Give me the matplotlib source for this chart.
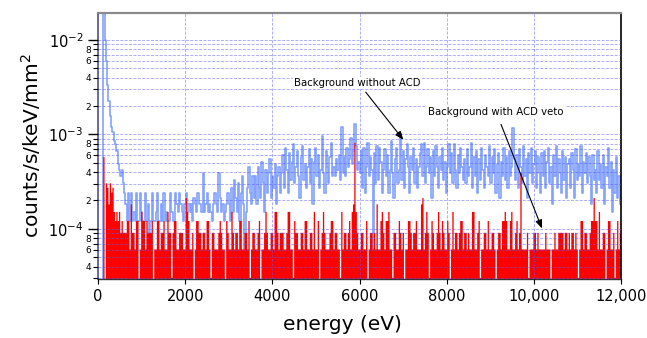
import numpy as np
import matplotlib
matplotlib.use("Agg")
import matplotlib.pyplot as plt
from matplotlib.ticker import FixedLocator, FixedFormatter

plt.rcParams['font.family'] = ['DejaVu Sans']
plt.rcParams['mathtext.fontset'] = 'dejavusans'

# ---------------- data (counts per 30 eV bin, 0 - 12000 eV) ----------------
bin_width_ev = 30.0
count_unit = 3.03e-5   # counts/s/keV/mm^2 per count

red_counts = [
    0, 0, 0, 0, 19, 0, 10, 9, 6, 10, 8, 9, 5, 4, 5, 4, 5, 3, 4, 3,
    3, 3, 4, 4, 2, 6, 3, 3, 2, 4, 4, 0, 2, 5, 4, 4, 2, 4, 3, 3,
    3, 4, 0, 2, 2, 4, 4, 2, 3, 3, 4, 2, 2, 5, 3, 3, 1, 3, 4, 4,
    2, 2, 3, 3, 3, 2, 2, 7, 5, 4, 2, 2, 3, 0, 2, 4, 4, 3, 3, 2,
    3, 3, 2, 4, 4, 2, 1, 3, 3, 2, 2, 2, 3, 4, 3, 2, 2, 0, 4, 3,
    2, 2, 5, 3, 2, 3, 3, 2, 4, 4, 2, 2, 3, 3, 2, 4, 1, 2, 3, 3,
    2, 2, 3, 4, 0, 2, 2, 3, 5, 3, 2, 2, 3, 3, 2, 5, 5, 3, 2, 3,
    3, 3, 2, 2, 3, 5, 5, 2, 2, 1, 4, 3, 3, 2, 2, 3, 3, 2, 4, 4,
    2, 2, 3, 3, 2, 5, 2, 2, 4, 0, 2, 3, 5, 3, 2, 2, 2, 3, 4, 4,
    2, 3, 3, 2, 2, 1, 5, 2, 3, 3, 2, 3, 4, 2, 5, 6, 27, 5, 3, 2,
    2, 3, 3, 2, 2, 4, 0, 2, 3, 3, 2, 3, 2, 6, 2, 2, 4, 5, 3, 2,
    4, 4, 5, 2, 2, 1, 3, 3, 2, 2, 4, 3, 2, 3, 0, 2, 2, 4, 4, 3,
    2, 3, 3, 4, 2, 2, 2, 6, 7, 2, 3, 5, 3, 1, 2, 4, 3, 2, 2, 3,
    5, 3, 2, 4, 3, 2, 2, 4, 3, 0, 2, 5, 2, 3, 3, 2, 3, 4, 4, 2,
    3, 3, 2, 3, 2, 2, 5, 5, 2, 2, 3, 4, 1, 2, 2, 3, 3, 2, 4, 2,
    2, 3, 3, 2, 0, 2, 3, 3, 2, 4, 4, 5, 4, 2, 2, 4, 5, 2, 2, 3,
    4, 2, 3, 13, 2, 2, 2, 2, 3, 1, 2, 2, 2, 3, 3, 2, 3, 2, 2, 2,
    2, 2, 3, 2, 2, 2, 0, 2, 2, 3, 2, 2, 3, 3, 3, 3, 2, 3, 3, 2,
    3, 2, 3, 3, 2, 3, 2, 1, 2, 4, 4, 2, 3, 3, 2, 2, 3, 4, 4, 7,
    4, 4, 2, 5, 2, 2, 3, 3, 0, 2, 4, 4, 2, 2, 3, 1, 2, 4, 2, 3,
]

blue_counts = [
    0, 0, 0, 0, 700, 330, 200, 110, 75, 52, 40, 35, 28, 26, 22, 16, 14, 12, 14, 10,
    8, 6, 4, 8, 4, 8, 4, 5, 4, 8, 4, 4, 8, 5, 4, 4, 8, 4, 6, 0,
    4, 8, 4, 4, 5, 8, 4, 4, 6, 4, 8, 4, 5, 4, 4, 8, 5, 4, 4, 8,
    6, 5, 8, 6, 5, 4, 6, 8, 5, 6, 5, 6, 4, 7, 6, 5, 8, 6, 6, 5,
    13, 5, 6, 8, 5, 6, 5, 4, 6, 8, 6, 5, 13, 7, 5, 6, 4, 5, 6, 8,
    6, 4, 9, 5, 11, 7, 5, 10, 4, 8, 12, 6, 0, 5, 9, 15, 8, 6, 12, 7,
    12, 6, 15, 9, 7, 17, 10, 5, 14, 8, 13, 18, 7, 12, 9, 16, 6, 12, 15, 8,
    13, 20, 9, 24, 14, 8, 21, 11, 17, 26, 10, 15, 22, 12, 7, 19, 25, 11, 16, 9,
    15, 23, 10, 18, 6, 17, 24, 12, 20, 9, 14, 32, 13, 8, 22, 15, 10, 19, 27, 12,
    15, 12, 18, 14, 20, 11, 40, 13, 19, 12, 24, 15, 18, 30, 16, 22, 43, 25, 14, 17,
    13, 22, 9, 24, 8, 15, 27, 12, 19, 14, 0, 21, 10, 25, 11, 24, 17, 8, 14, 23,
    12, 20, 8, 14, 28, 13, 7, 18, 24, 10, 14, 33, 11, 22, 9, 18, 26, 15, 8, 19,
    14, 24, 10, 18, 9, 15, 21, 26, 12, 27, 10, 15, 23, 13, 19, 7, 22, 12, 25, 15,
    9, 19, 14, 24, 11, 17, 8, 15, 26, 13, 21, 10, 26, 14, 9, 20, 13, 24, 15, 11,
    18, 10, 23, 12, 15, 27, 9, 19, 12, 22, 8, 18, 11, 24, 14, 9, 20, 15, 12, 25,
    10, 19, 13, 23, 8, 16, 21, 7, 17, 12, 24, 11, 19, 9, 22, 12, 15, 39, 18, 11,
    20, 9, 23, 15, 10, 25, 12, 18, 7, 21, 13, 24, 10, 16, 22, 9, 19, 13, 8, 21,
    12, 22, 9, 17, 24, 10, 15, 6, 20, 12, 25, 9, 18, 13, 8, 22, 11, 19, 7, 16,
    18, 9, 21, 14, 7, 23, 11, 16, 12, 25, 8, 17, 13, 21, 10, 19, 12, 6, 20, 11,
    14, 8, 22, 11, 16, 9, 20, 6, 15, 12, 24, 9, 17, 5, 14, 8, 19, 7, 12, 6,
]

x_tick_values = [0, 2000, 4000, 6000, 8000, 10000, 12000]
x_tick_labels = ["0", "2000", "4000", "6000", "8000", "10,000", "12,000"]
y_major_values = [1e-4, 1e-3, 1e-2]
y_major_labels = [r"$10^{-4}$", r"$10^{-3}$", r"$10^{-2}$"]
label_without = "Background without ACD"
label_with = "Background with ACD veto"

# ---------------- figure ----------------
W, H = 647, 338
fig = plt.figure(figsize=(W / 100, H / 100), dpi=100)
ax = fig.add_axes([98 / W, 1 - 279 / H, 523 / W, 266 / H])

ymin, ymax = 2.95e-5, 1.93e-2
floor = 1e-9
n = len(red_counts)
edges = np.arange(n + 1) * bin_width_ev
red = np.array(red_counts, dtype=float) * count_unit
blue = np.array(blue_counts, dtype=float) * count_unit
red[red <= 0] = floor
blue[blue <= 0] = floor
red_s = np.append(red, red[-1])
blue_s = np.append(blue, blue[-1])

ax.step(edges, blue_s, where='post', color='#84a2ff', lw=1.2, zorder=2.0)
ax.fill_between(edges, red_s, floor, step='post', color='#ff0000', lw=0,
                zorder=2.2)

ax.set_yscale('log')
ax.set_xlim(0, 12000)
ax.set_ylim(ymin, ymax)

# ticks
ax.xaxis.set_major_locator(FixedLocator(x_tick_values))
ax.xaxis.set_major_formatter(FixedFormatter(x_tick_labels))
ax.xaxis.set_minor_locator(FixedLocator([]))
ax.yaxis.set_major_locator(FixedLocator(y_major_values))
ax.yaxis.set_major_formatter(FixedFormatter(y_major_labels))
minor_pos, minor_lab = [], []
for d in [1e-5, 1e-4, 1e-3, 1e-2]:
    for m in range(2, 10):
        v = m * d
        if ymin <= v <= ymax:
            minor_pos.append(v)
            minor_lab.append(str(m) if m in (2, 4, 6, 8) else "")
ax.yaxis.set_minor_locator(FixedLocator(minor_pos))
ax.yaxis.set_minor_formatter(FixedFormatter(minor_lab))

ax.tick_params(axis='x', which='major', direction='out', length=3.5, width=0.8,
               labelsize=10.5, pad=4)
ax.tick_params(axis='y', which='major', direction='out', length=7.5, width=1.0,
               labelsize=10.5, pad=3)
ax.tick_params(axis='y', which='minor', direction='out', length=3.5, width=0.8,
               labelsize=6.5, pad=1.2)

# grid on top of data
ax.set_axisbelow(False)
gkw = dict(color='#5a5aff', alpha=0.5, linestyle=(0, (3, 1.5)), linewidth=0.7)
ax.grid(True, axis='y', which='both', **gkw)
ax.grid(True, axis='x', which='major', **gkw)

# spines
ax.spines['top'].set_color('#8a8a8a')
ax.spines['top'].set_linewidth(1.6)
ax.spines['left'].set_color('#666666')
ax.spines['left'].set_linewidth(1.3)
ax.spines['bottom'].set_color('#333333')
ax.spines['bottom'].set_linewidth(1.0)
ax.spines['right'].set_color('black')
ax.spines['right'].set_linewidth(1.2)

# labels
ax.set_xlabel("energy (eV)", fontsize=14.5)
ax.xaxis.set_label_coords(0.468, -0.135)
ax.set_ylabel(r"counts/s/keV/mm$^{2}$", fontsize=14.5)
ax.yaxis.set_label_coords(-0.105, 0.5)

# annotations
bbox = dict(facecolor='white', edgecolor='none', pad=1.0)
ax.text(4497, 3.51e-3, label_without, fontsize=7.3, va='center', ha='left',
        bbox=bbox, zorder=5)
ax.annotate('', xy=(7044, 8.34e-4), xytext=(6103, 2.96e-3),
            arrowprops=dict(arrowstyle='-|>,head_length=0.5,head_width=0.2',
                            color='black', lw=0.8), zorder=5)
ax.text(7572, 1.73e-3, label_with, fontsize=7.3, va='center', ha='left',
        bbox=bbox, zorder=5)
ax.annotate('', xy=(10210, 9.5e-5), xytext=(9224, 1.36e-3),
            arrowprops=dict(arrowstyle='-|>,head_length=0.5,head_width=0.2',
                            color='black', lw=0.8), zorder=5)

fig.savefig("out.png", dpi=100)
